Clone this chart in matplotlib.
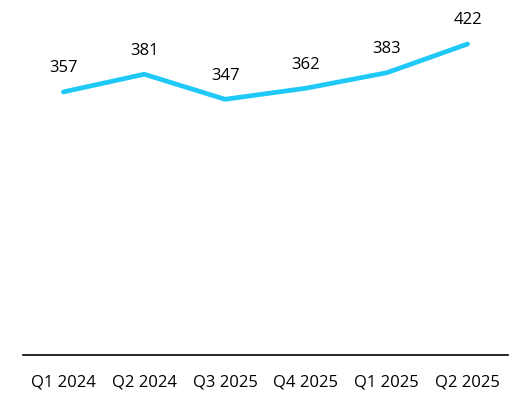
import matplotlib
matplotlib.use("Agg")
import matplotlib.pyplot as plt

categories = ["Q1 2024", "Q2 2024", "Q3 2025", "Q4 2025", "Q1 2025", "Q2 2025"]
values = [357, 381, 347, 362, 383, 422]

plt.rcParams['font.family'] = ['Open Sans', 'DejaVu Sans']
fig = plt.figure(figsize=(5.31, 4.05), dpi=100)
W, H = 531, 405
left, right = 23 / W, 508 / W
bottom = 1 - 355 / H
top_px = 44 - (450 - 422) * (263 / 357)
ax = fig.add_axes([left, bottom, right - left, (355 - top_px) / H])
x = list(range(len(categories)))
ax.plot(x, values, color="#1EC8F7", lw=3.4, solid_capstyle="round", solid_joinstyle="round")
ax.set_xlim(-0.5, len(categories) - 0.5)
ax.set_ylim(0, 450)
for xi, v in zip(x, values):
    ax.annotate(str(v), (xi, v), xytext=(0, 17), textcoords="offset points",
                ha="center", va="center", fontsize=12, color="#000000")
for s in ["top", "left", "right"]:
    ax.spines[s].set_visible(False)
ax.spines["bottom"].set_linewidth(1.2)
ax.spines["bottom"].set_color("#000000")
ax.set_yticks([])
ax.set_xticks(x)
ax.set_xticklabels(categories, fontsize=12)
ax.tick_params(axis="x", length=0, pad=14)
fig.savefig("out.png", dpi=100)
